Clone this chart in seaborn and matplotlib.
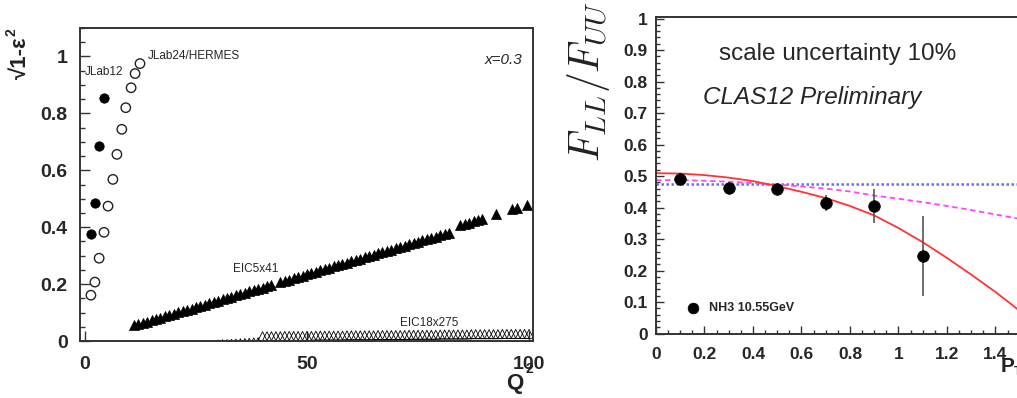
import numpy as np
import pandas as pd
import matplotlib
matplotlib.use("Agg")
import matplotlib.pyplot as plt
import seaborn as sns
from matplotlib.ticker import MultipleLocator, FixedLocator, NullLocator, FuncFormatter

# ---- left panel: sqrt(1-eps^2) vs Q^2 at x=0.3 ----
jlab24_q2 = [1.35, 2.25, 3.2, 4.3, 5.2, 6.3, 7.2, 8.3, 9.2, 10.4, 11.3, 12.4]
jlab24_val = [0.161, 0.207, 0.291, 0.382, 0.474, 0.568, 0.656, 0.744, 0.82, 0.89, 0.94, 0.975]

jlab12_q2 = [1.35, 2.25, 3.2, 4.3]
jlab12_val = [0.375, 0.484, 0.684, 0.853]

eic5_q2 = [11, 12, 13, 14, 15, 16, 17, 18, 19, 20, 21, 22, 23, 24, 25, 26, 27, 28,
           29, 30, 31, 32, 33, 34, 35, 36, 37, 38, 39, 40, 41, 42, 44, 45, 46, 47,
           48, 49, 50, 51, 52, 53, 54, 55, 56, 57, 58, 59, 60, 61, 62, 63, 64, 65,
           66, 67, 68, 69, 70, 71, 72, 73, 74, 75, 76, 77, 78, 79, 80, 81, 82,
           84.5, 85.5, 86.5, 87.5, 88.5, 89.5, 92.6, 96.2, 97.3, 99.5]
eic5_val = [0.055, 0.059, 0.064, 0.068, 0.073, 0.078, 0.082, 0.087, 0.091, 0.096,
            0.101, 0.105, 0.110, 0.114, 0.119, 0.124, 0.128, 0.133, 0.137, 0.142,
            0.147, 0.151, 0.156, 0.160, 0.165, 0.170, 0.174, 0.179, 0.183, 0.188,
            0.193, 0.197, 0.206, 0.211, 0.216, 0.220, 0.225, 0.229, 0.234, 0.239,
            0.243, 0.248, 0.252, 0.257, 0.262, 0.266, 0.271, 0.275, 0.280, 0.285,
            0.289, 0.294, 0.298, 0.303, 0.308, 0.312, 0.317, 0.321, 0.326, 0.331,
            0.335, 0.340, 0.344, 0.349, 0.354, 0.358, 0.363, 0.367, 0.372, 0.377,
            0.381, 0.407, 0.411, 0.416, 0.421, 0.425, 0.430, 0.446, 0.463, 0.468,
            0.478]

eic18_q2 = [29, 30, 31, 32, 33, 34, 35, 36, 37, 38, 39,
            40, 41, 42, 43, 44, 45, 46, 47, 48, 49, 50, 51, 52, 53, 54, 55, 56,
            57, 58, 59, 60, 61, 62, 63, 64, 65, 66, 67, 68, 69, 70, 71, 72, 73,
            74, 75, 76, 77, 78, 79, 80, 81, 82, 83, 84, 85, 86, 87, 88, 89, 90,
            91, 92, 93, 94, 95, 96, 97, 98, 99, 100]
eic18_val = [-0.013, -0.012, -0.011, -0.011, -0.010, -0.009, -0.008, -0.007, -0.006,
             -0.005, -0.004,
             0.017, 0.017, 0.017, 0.017, 0.017, 0.018, 0.018, 0.018, 0.018, 0.018,
             0.018, 0.018, 0.019, 0.019, 0.019, 0.019, 0.019, 0.019, 0.019, 0.020,
             0.020, 0.020, 0.020, 0.020, 0.020, 0.020, 0.021, 0.021, 0.021, 0.021,
             0.021, 0.021, 0.021, 0.022, 0.022, 0.022, 0.022, 0.022, 0.022, 0.022,
             0.023, 0.023, 0.023, 0.023, 0.023, 0.023, 0.023, 0.024, 0.024, 0.024,
             0.024, 0.024, 0.024, 0.024, 0.025, 0.025, 0.025, 0.025, 0.025, 0.025,
             0.025]

# ---- right panel: F_LL/F_UU vs P_T ----
pt_pts = [0.1, 0.3, 0.5, 0.7, 0.9, 1.1]
ratio_pts = [0.490, 0.462, 0.458, 0.414, 0.405, 0.246]
ratio_err = [0.020, 0.012, 0.012, 0.025, 0.054, 0.127]

pt_curve = [0.0, 0.1, 0.2, 0.3, 0.4, 0.5, 0.6, 0.7, 0.8, 0.9, 1.0, 1.1, 1.2, 1.3, 1.4, 1.5]
red_curve = [0.509, 0.508, 0.503, 0.495, 0.484, 0.468, 0.450, 0.430, 0.405, 0.375,
             0.335, 0.290, 0.240, 0.187, 0.132, 0.072]
magenta_curve = [0.487, 0.487, 0.485, 0.482, 0.478, 0.473, 0.467, 0.460, 0.451, 0.438,
                 0.428, 0.417, 0.405, 0.392, 0.378, 0.364]
blue_level = [0.476] * len(pt_curve)

sns.set_style("ticks")
plt.rcParams["font.family"] = ["Liberation Sans", "DejaVu Sans"]

fig = plt.figure(figsize=(10.17, 3.98), dpi=100)
ink = "#333333"
fmt = FuncFormatter(lambda v, p: f"{v:g}")

# ================= left =================
ax1 = fig.add_axes([0.0787, 0.1432, 0.4454, 0.7864])
sns.scatterplot(x=eic18_q2, y=eic18_val, ax=ax1, marker="^", s=42,
                facecolor="none", edgecolor="black", linewidth=0.6)
sns.scatterplot(x=eic5_q2, y=eic5_val, ax=ax1, marker="^", s=52,
                color="black", edgecolor="black", linewidth=0.5)
sns.scatterplot(x=jlab24_q2, y=jlab24_val, ax=ax1, marker="o", s=46,
                facecolor="none", edgecolor="#222222", linewidth=1.0)
sns.scatterplot(x=jlab12_q2, y=jlab12_val, ax=ax1, marker="o", s=46,
                color="black", edgecolor="black", linewidth=0.5)

ax1.set_xlim(-1.1, 100.9)
ax1.set_ylim(0, 1.1)
ax1.xaxis.set_major_locator(FixedLocator([0, 50, 100]))
ax1.xaxis.set_minor_locator(NullLocator())
ax1.yaxis.set_major_locator(MultipleLocator(0.2))
ax1.yaxis.set_minor_locator(MultipleLocator(0.05))
ax1.xaxis.set_major_formatter(fmt)
ax1.yaxis.set_major_formatter(fmt)
ax1.tick_params(which="both", direction="in", top=False, right=False, color=ink)
ax1.tick_params(which="major", length=7, width=1.0)
ax1.tick_params(which="minor", length=3.6, width=1.0)
ax1.tick_params(axis="y", pad=9)
ax1.tick_params(axis="x", pad=11)
for lab in ax1.get_xticklabels() + ax1.get_yticklabels():
    lab.set_fontsize(14)
    lab.set_fontweight("bold")
for sp in ax1.spines.values():
    sp.set_visible(True)
    sp.set_color(ink)
    sp.set_linewidth(1.4)
ax1.set_xlabel("")
ax1.set_ylabel("")

ax1.text(0.0, 0.944, "JLab12", fontsize=8.5, ha="left", va="center")
ax1.text(14.2, 1.0, "JLab24/HERMES", fontsize=8.5, ha="left", va="center")
ax1.text(98.6, 0.986, "x=0.3", fontsize=11, style="italic", ha="right", va="center")
ax1.text(33.3, 0.253, "EIC5x41", fontsize=8.5, ha="left", va="center")
ax1.text(71.0, 0.063, "EIC18x275", fontsize=8.5, ha="left", va="center")

fig.text(20 / 1017, 1 - 58 / 398, "√1-ε", rotation=90, fontsize=16,
         fontweight="bold", ha="center", va="center", color="#222222")
fig.text(12 / 1017, 1 - 32 / 398, "2", rotation=90, fontsize=10,
         fontweight="bold", ha="center", va="center", color="#222222")
fig.text(515 / 1017, 1 - 383 / 398, "Q", fontsize=16, fontweight="bold",
         ha="center", va="center", color="#222222")
fig.text(529 / 1017, 1 - 369 / 398, "2", fontsize=10, fontweight="bold",
         ha="center", va="center", color="#222222")

# ================= right =================
ax2 = fig.add_axes([0.645, 0.162, 0.3815, 0.7953])
sns.lineplot(x=pt_curve, y=blue_level, ax=ax2, color="#6a6aff",
             linestyle=(0, (1, 1)), linewidth=1.8)
sns.lineplot(x=pt_curve, y=magenta_curve, ax=ax2, color="#ff44ff",
             linestyle=(0, (3, 2)), linewidth=1.3)
sns.lineplot(x=pt_curve, y=red_curve, ax=ax2, color="#ff3333", linewidth=1.3)
ax2.errorbar(pt_pts, ratio_pts, yerr=ratio_err, fmt="none", ecolor="#555555",
             elinewidth=1.2, capsize=0)
sns.scatterplot(x=pt_pts, y=ratio_pts, ax=ax2, marker="o", s=70,
                color="black", edgecolor="black", linewidth=0.5, zorder=5)
sns.scatterplot(x=[0.153], y=[0.081], ax=ax2, marker="o", s=60,
                color="black", edgecolor="black", linewidth=0.5, zorder=5)
ax2.text(0.22, 0.081, "NH3 10.55GeV", fontsize=9, fontweight="bold",
         ha="left", va="center")
ax2.text(0.26, 0.888, "scale uncertainty 10%", fontsize=17.5, ha="left", va="center")
ax2.text(0.195, 0.75, "CLAS12 Preliminary", fontsize=17.5, style="italic",
         ha="left", va="center")

ax2.set_xlim(0, 1.6)
ax2.set_ylim(0, 1.005)
ax2.xaxis.set_major_locator(MultipleLocator(0.2))
ax2.xaxis.set_minor_locator(MultipleLocator(0.05))
ax2.yaxis.set_major_locator(MultipleLocator(0.1))
ax2.yaxis.set_minor_locator(MultipleLocator(0.02))
ax2.xaxis.set_major_formatter(fmt)
ax2.yaxis.set_major_formatter(fmt)
ax2.tick_params(which="both", direction="in", top=False, right=False, color=ink)
ax2.tick_params(which="major", length=6, width=1.0)
ax2.tick_params(which="minor", length=3, width=1.0)
ax2.tick_params(axis="y", pad=6)
ax2.tick_params(axis="x", pad=10)
for lab in ax2.get_xticklabels() + ax2.get_yticklabels():
    lab.set_fontsize(12.5)
    lab.set_fontweight("bold")
for sp in ax2.spines.values():
    sp.set_visible(True)
    sp.set_color(ink)
    sp.set_linewidth(1.4)
ax2.set_xlabel("")
ax2.set_ylabel("")

fig.text(589 / 1017, 1 - 82 / 398, r"$F_{LL}/F_{UU}$", rotation=90, fontsize=30,
         math_fontfamily="cm", ha="center", va="center", color="#222222")
fig.text(1001 / 1017, 1 - 367 / 398, "P", fontsize=15, fontweight="bold",
         ha="left", va="center", color="#222222")
fig.text(1014 / 1017, 1 - 372 / 398, "T", fontsize=9, fontweight="bold",
         ha="left", va="center", color="#222222")

fig.savefig("out.png", dpi=100)
